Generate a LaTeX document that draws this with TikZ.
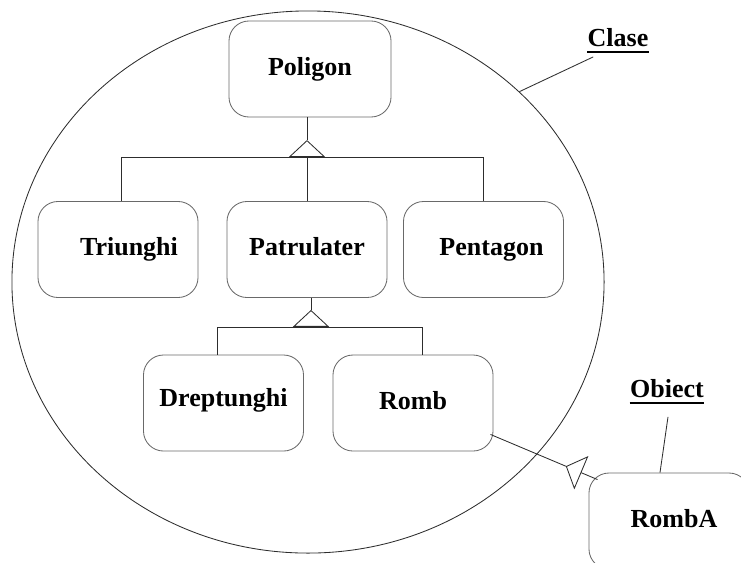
\documentclass[tikz,border=0pt]{standalone}
\usepackage{fontspec}
\setmainfont{Liberation Serif}
\usetikzlibrary{arrows.meta,shapes.geometric,calc}
\definecolor{boxgray}{RGB}{105,105,105}
\definecolor{linegray}{RGB}{45,45,45}

\begin{document}
\begin{tikzpicture}[x=0.025cm, y=-0.025cm, line width=0.6pt,
  every node/.style={font=\fontsize{18.5}{22}\selectfont\bfseries},
  clasa/.style={draw=boxgray, rounded corners=0.5cm, minimum width=4cm, minimum height=2.4cm, inner sep=0pt, text height=0.45cm, text depth=0.15cm},
  gen/.style={draw=linegray, -{Triangle[open,length=0.42cm,width=0.9cm]}},
  leg/.style={draw=linegray}]
  \useasboundingbox (0,0) rectangle (741,562);
  \node[draw=linegray, ellipse, minimum width=14.8cm, minimum height=13.55cm, inner sep=0pt] (cerc) at (308,282) {};
  \node[clasa, minimum width=4.05cm] (Poligon) at (310,69) {Poligon};
  \node[clasa] (Triunghi) at (118,249.5) {\hspace*{0.55cm}Triunghi};
  \node[clasa] (Patrulater) at (307,249.5) {Patrulater};
  \node[clasa] (Pentagon) at (483.5,249.5) {\hspace*{0.4cm}Pentagon};
  \node[clasa, text height=0.35cm, text depth=0.2cm] (Dreptunghi) at (223.5,403) {Dreptunghi};
  \node[clasa] (Romb) at (413,403) {Romb};
  \node[clasa] (RombA) at (669,521) {\hspace*{0.25cm}RombA};
  \node[inner sep=0pt] (clase) at (618,38) {Clase};
  \node[inner sep=0pt] (obiect) at (667,389) {Obiect};
  \draw[line width=1.6pt] ($(clase.base west)+(0,5)$) -- ($(clase.base east)+(0,5)$);
  \draw[line width=1.6pt] ($(obiect.base west)+(0,5)$) -- ($(obiect.base east)+(0,5)$);

  \coordinate (b1) at ($(Patrulater.north)+(0,-44)$);
  \coordinate (a1) at ($(b1)+(0,-17)$);
  \draw[gen] (b1) -- (a1);
  \draw[leg] (a1) -- (a1 |- Poligon.south);
  \draw[leg] ($(Triunghi.north)+(3,0)$) |- (b1);
  \draw[leg] (Pentagon.north) |- (b1);
  \draw[leg] (Patrulater.north) -- (b1);

  \coordinate (b2) at ($(Patrulater.south)+(4,29)$);
  \coordinate (a2) at ($(b2)+(0,-17)$);
  \draw[gen] (b2) -- (a2);
  \draw[leg] (a2) -- (a2 |- Patrulater.south);
  \draw[leg] ($(Dreptunghi.north)+(-6.5,0)$) |- (b2);
  \draw[leg] ($(Romb.north)+(9,0)$) |- (b2);

  \coordinate (ra) at ($(RombA.north west)+(9,7)$);
  \coordinate (rs) at ($(Romb.south east)+(-3,-17)$);
  \coordinate (b3) at ($(ra)!0.43cm!(rs)$);
  \coordinate (a3) at ($(ra)!0.86cm!(rs)$);
  \draw[leg] (ra) -- (b3);
  \draw[gen] (b3) -- (a3);
  \draw[leg] (a3) -- (rs);

  \draw[leg] ($(clase.base west)+(6,10)$) -- (cerc.42);
  \draw[leg] ($(obiect.base)+(1,19)$) -- ($(RombA.north)+(-9,0)$);
\end{tikzpicture}
\end{document}
